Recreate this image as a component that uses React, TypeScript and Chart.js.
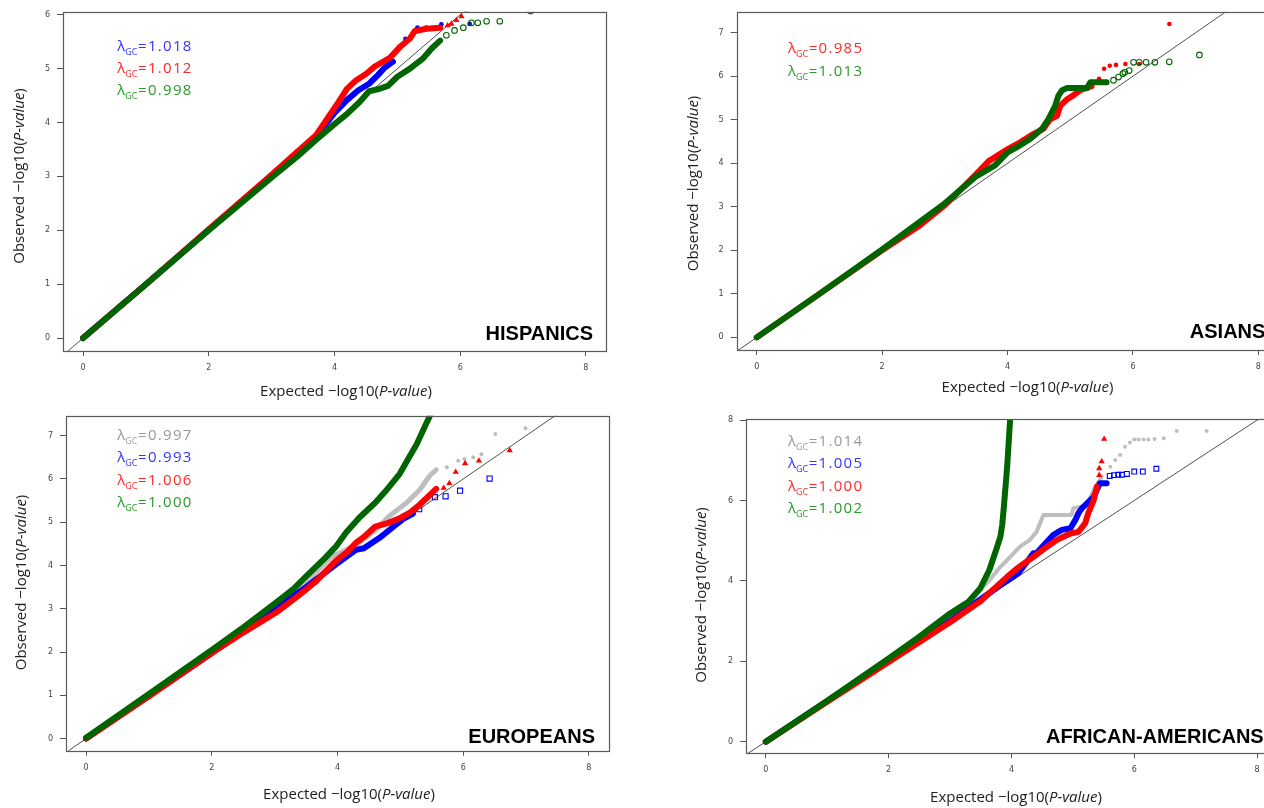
import React, { useEffect, useRef } from "react";
import { Chart, registerables } from "chart.js";

Chart.register(...registerables);

type P = [number, number];

// ---------------- DATA (expected, observed) ----------------
// HISPANICS
const hispBlueBand: P[] = [[0, 0], [1, 1], [2, 2.01], [3, 3.02], [3.4, 3.42], [3.6, 3.58], [3.85, 3.95], [4.0, 4.18], [4.2, 4.42], [4.38, 4.6], [4.55, 4.72], [4.69, 4.88], [4.8, 5.02], [4.93, 5.13]];
const hispBlueTail: P[] = [[5.13, 5.55], [5.32, 5.76], [5.46, 5.76], [5.7, 5.82], [6.15, 5.83]];
const hispRedBand: P[] = [[0, 0], [1, 1], [2, 2.02], [3, 3.03], [3.4, 3.45], [3.71, 3.77], [4.03, 4.32], [4.2, 4.63], [4.34, 4.78], [4.5, 4.9], [4.64, 5.04], [4.88, 5.2], [5.04, 5.4], [5.2, 5.56], [5.28, 5.7], [5.46, 5.74], [5.68, 5.76]];
const hispRedTail: P[] = [[5.8, 5.8], [5.86, 5.83], [5.94, 5.9], [6.02, 5.97], [6.1, 6.07]];
const hispGreenBand: P[] = [[0, 0], [1, 1], [2, 2], [3, 2.98], [3.4, 3.36], [3.7, 3.67], [4.0, 3.97], [4.2, 4.16], [4.4, 4.38], [4.55, 4.58], [4.7, 4.62], [4.85, 4.68], [5.0, 4.85], [5.2, 5.0], [5.4, 5.18], [5.55, 5.38], [5.68, 5.52]];
const hispGreenTail: P[] = [[5.78, 5.62], [5.91, 5.71], [6.05, 5.76], [6.18, 5.85], [6.28, 5.85], [6.42, 5.88], [6.63, 5.88], [7.12, 6.07]];
const hispLambda = ["1.018", "1.012", "0.998"];

// ASIANS
const asiaRedBand: P[] = [[0, 0], [1, 1], [2, 2], [2.6, 2.57], [3.0, 3.04], [3.22, 3.35], [3.5, 3.75], [3.7, 4.05], [4.01, 4.33], [4.2, 4.48], [4.41, 4.67], [4.57, 4.79], [4.68, 5.01], [4.79, 5.09], [4.84, 5.32], [4.95, 5.47], [5.05, 5.56], [5.16, 5.68], [5.34, 5.77]];
const asiaRedTail: P[] = [[5.46, 5.94], [5.54, 6.17], [5.63, 6.24], [5.73, 6.26], [5.88, 6.28], [6.1, 6.28], [6.58, 7.2]];
const asiaGreenBand: P[] = [[0, 0], [1, 1], [2, 2.02], [2.5, 2.55], [3, 3.08], [3.5, 3.7], [3.8, 3.95], [4.0, 4.25], [4.15, 4.37], [4.36, 4.56], [4.55, 4.79], [4.65, 5.01], [4.76, 5.32], [4.81, 5.55], [4.87, 5.68], [4.95, 5.73], [5.27, 5.73], [5.32, 5.86], [5.58, 5.86]];
const asiaGreenTail: P[] = [[5.69, 5.91], [5.77, 5.98], [5.84, 6.06], [5.87, 6.09], [5.94, 6.13], [6.01, 6.32], [6.1, 6.32], [6.21, 6.32], [6.35, 6.32], [6.58, 6.33], [7.06, 6.49]];
const asiaLambda = ["0.985", "1.013"];

// EUROPEANS
const euroGrayBand: P[] = [[0, 0], [1, 1.02], [2, 2.04], [3, 3.1], [3.5, 3.62], [3.91, 4.21], [4.29, 4.47], [4.6, 4.81], [4.83, 5.15], [5.1, 5.45], [5.31, 5.75], [5.47, 6.08], [5.57, 6.21]];
const euroGrayTail: P[] = [[5.74, 6.27], [5.92, 6.42], [6.02, 6.46], [6.16, 6.5], [6.29, 6.57], [6.51, 7.04], [6.99, 7.17]];
const euroBlueBand: P[] = [[0, 0], [1, 0.99], [2, 1.98], [3, 3.0], [3.5, 3.5], [3.97, 4.02], [4.29, 4.36], [4.42, 4.4], [4.67, 4.64], [4.85, 4.85], [5.04, 5.07], [5.2, 5.2]];
const euroBlueTail: P[] = [[5.3, 5.3], [5.55, 5.58], [5.72, 5.6], [5.95, 5.73], [6.42, 6.01]];
const euroRedBand: P[] = [[0, 0], [1, 0.98], [2, 1.98], [2.5, 2.45], [3.03, 2.92], [3.41, 3.34], [3.66, 3.64], [3.97, 4.1], [4.16, 4.32], [4.29, 4.52], [4.42, 4.66], [4.6, 4.9], [4.8, 4.98], [5.0, 5.1], [5.15, 5.22], [5.31, 5.41], [5.47, 5.63], [5.57, 5.77]];
const euroRedTail: P[] = [[5.69, 5.79], [5.78, 5.9], [5.88, 6.16], [6.03, 6.36], [6.25, 6.42], [6.74, 6.66]];
const euroGreenBand: P[] = [[0, 0.02], [1, 1.03], [2, 2.05], [2.5, 2.57], [3, 3.12], [3.3, 3.46], [3.5, 3.75], [3.8, 4.17], [3.97, 4.43], [4.14, 4.77], [4.35, 5.11], [4.6, 5.45], [4.76, 5.71], [4.99, 6.12], [5.14, 6.5], [5.26, 6.8], [5.39, 7.21], [5.5, 7.55]];
const euroGreenTail: P[] = [];
const euroLambda = ["0.997", "0.993", "1.006", "1.000"];

// AFRICAN-AMERICANS
const afamGrayBand: P[] = [[0, 0], [1, 1], [2, 2.03], [3, 3.1], [3.33, 3.5], [3.66, 4.05], [3.82, 4.35], [3.93, 4.52], [4.14, 4.85], [4.3, 5.02], [4.41, 5.22], [4.52, 5.64], [4.98, 5.64], [5.01, 5.81], [5.17, 5.85], [5.25, 5.97], [5.37, 6.34], [5.47, 6.59]];
const afamGrayTail: P[] = [[5.61, 6.84], [5.69, 7.01], [5.77, 7.13], [5.85, 7.34], [5.93, 7.44], [6.0, 7.52], [6.07, 7.52], [6.15, 7.52], [6.23, 7.52], [6.33, 7.53], [6.48, 7.55], [6.69, 7.73], [7.18, 7.73]];
const afamBlueBand: P[] = [[0, 0], [1, 1.01], [2, 2.02], [3, 3.0], [3.79, 3.86], [4.11, 4.19], [4.36, 4.69], [4.41, 4.69], [4.68, 5.14], [4.82, 5.27], [4.96, 5.31], [5.04, 5.51], [5.09, 5.68], [5.15, 5.81], [5.34, 6.09], [5.44, 6.43], [5.55, 6.43]];
const afamBlueTail: P[] = [[5.6, 6.61], [5.67, 6.63], [5.74, 6.64], [5.8, 6.64], [5.88, 6.66], [6.0, 6.72], [6.14, 6.72], [6.36, 6.79]];
const afamRedBand: P[] = [[0, 0], [1, 0.99], [2, 1.98], [3, 2.97], [3.5, 3.5], [3.93, 4.1], [4.09, 4.31], [4.36, 4.6], [4.58, 4.85], [4.74, 5.02], [4.96, 5.18], [5.09, 5.22], [5.2, 5.43], [5.25, 5.68], [5.34, 6.01], [5.39, 6.34]];
const afamRedTail: P[] = [[5.43, 6.63], [5.43, 6.8], [5.47, 6.97], [5.51, 7.53]];
const afamGreenBand: P[] = [[0, 0], [1, 1.02], [2, 2.07], [2.5, 2.61], [3, 3.19], [3.3, 3.48], [3.49, 3.81], [3.64, 4.27], [3.75, 4.77], [3.82, 5.1], [3.85, 5.4], [3.88, 5.9], [3.93, 6.84], [3.98, 8.05]];
const afamGreenTail: P[] = [];
const afamLambda = ["1.014", "1.005", "1.000", "1.002"];

// reference line y = x
const identityLine: P[] = [[-1, -1], [10, 10]];
const xTicks = [0, 2, 4, 6, 8];

// ---------------- STYLES ----------------
const DATA_COL = { blue: "#0000ff", red: "#ff0000", green: "#006400", gray: "#bebebe" };
const TEXT_COL = { blue: "#3535ff", red: "#ff2a2a", green: "#2a9a2a", gray: "#9a9a9a" };

type Series = {
  band: P[];
  tail: P[];
  color: string;
  style: string;
  radius: number;
  filled: boolean;
  bandWidth: number;
};

type PanelCfg = {
  name: string;
  x: number; y: number; w: number; h: number;
  area: { l: number; t: number; r: number; b: number };
  yMin: number; yMax: number; yStep: number;
  series: Series[]; // bottom -> top
  lambdas: string[];
  lambdaCols: string[];
  lamDx: number; lamDy: number; lamGap: number;
  nameDx: number; nameDy: number;
  xTitle: { cx: number; by: number };
  yTitle: { bx: number; cy: number };
};

const panels: PanelCfg[] = [
  {
    name: "HISPANICS", x: 0, y: 0, w: 632, h: 404,
    area: { l: 63, t: 8, r: 606, b: 351 },
    yMin: -0.24, yMax: 6.055, yStep: 1,
    series: [
      { band: hispBlueBand, tail: hispBlueTail, color: DATA_COL.blue, style: "circle", radius: 2.4, filled: true, bandWidth: 6 },
      { band: hispRedBand, tail: hispRedTail, color: DATA_COL.red, style: "triangle", radius: 3.6, filled: true, bandWidth: 6 },
      { band: hispGreenBand, tail: hispGreenTail, color: DATA_COL.green, style: "circle", radius: 2.8, filled: false, bandWidth: 6 },
    ],
    lambdas: hispLambda, lambdaCols: [TEXT_COL.blue, TEXT_COL.red, TEXT_COL.green],
    lamDx: 54.3, lamDy: 38.7, lamGap: 22.2, nameDx: 13, nameDy: 11,
    xTitle: { cx: 346, by: 396 }, yTitle: { bx: 24, cy: 176 },
  },
  {
    name: "ASIANS", x: 640, y: 0, w: 660, h: 404,
    area: { l: 96.7, t: 8, r: 638.4, b: 350 },
    yMin: -0.29, yMax: 7.48, yStep: 1,
    series: [
      { band: asiaRedBand, tail: asiaRedTail, color: DATA_COL.red, style: "circle", radius: 2.3, filled: true, bandWidth: 6 },
      { band: asiaGreenBand, tail: asiaGreenTail, color: DATA_COL.green, style: "circle", radius: 2.8, filled: false, bandWidth: 6 },
    ],
    lambdas: asiaLambda, lambdaCols: [TEXT_COL.red, TEXT_COL.green],
    lamDx: 51.3, lamDy: 41.3, lamGap: 22.4, nameDx: 13, nameDy: 12,
    xTitle: { cx: 387.5, by: 391.7 }, yTitle: { bx: 58, cy: 183.5 },
  },
  {
    name: "EUROPEANS", x: 0, y: 404, w: 632, h: 404,
    area: { l: 66, t: 3.3, r: 609, b: 346.7 },
    yMin: -0.28, yMax: 7.46, yStep: 1,
    series: [
      { band: euroGrayBand, tail: euroGrayTail, color: DATA_COL.gray, style: "circle", radius: 2, filled: true, bandWidth: 5 },
      { band: euroBlueBand, tail: euroBlueTail, color: DATA_COL.blue, style: "rect", radius: 3.6, filled: false, bandWidth: 6 },
      { band: euroRedBand, tail: euroRedTail, color: DATA_COL.red, style: "triangle", radius: 3.6, filled: true, bandWidth: 6 },
      { band: euroGreenBand, tail: euroGreenTail, color: DATA_COL.green, style: "circle", radius: 2.8, filled: false, bandWidth: 6 },
    ],
    lambdas: euroLambda, lambdaCols: [TEXT_COL.gray, TEXT_COL.blue, TEXT_COL.red, TEXT_COL.green],
    lamDx: 51.3, lamDy: 24.4, lamGap: 22.2, nameDx: 14, nameDy: 7.7,
    xTitle: { cx: 349, by: 395 }, yTitle: { bx: 26, cy: 178.5 },
  },
  {
    name: "AFRICAN-AMERICANS", x: 640, y: 404, w: 660, h: 404,
    area: { l: 106.2, t: 15.3, r: 636.7, b: 349.3 },
    yMin: -0.29, yMax: 8.02, yStep: 2,
    series: [
      { band: afamGrayBand, tail: afamGrayTail, color: DATA_COL.gray, style: "circle", radius: 2, filled: true, bandWidth: 4 },
      { band: afamBlueBand, tail: afamBlueTail, color: DATA_COL.blue, style: "rect", radius: 3.4, filled: false, bandWidth: 6 },
      { band: afamRedBand, tail: afamRedTail, color: DATA_COL.red, style: "triangle", radius: 3.6, filled: true, bandWidth: 6 },
      { band: afamGreenBand, tail: afamGreenTail, color: DATA_COL.green, style: "circle", radius: 2.8, filled: false, bandWidth: 6 },
    ],
    lambdas: afamLambda, lambdaCols: [TEXT_COL.gray, TEXT_COL.blue, TEXT_COL.red, TEXT_COL.green],
    lamDx: 41.8, lamDy: 26.7, lamGap: 22.4, nameDx: 13, nameDy: 10,
    xTitle: { cx: 376, by: 397.7 }, yTitle: { bx: 66, cy: 191 },
  },
];

const toXY = (arr: P[]) => arr.map(([x, y]) => ({ x, y }));

const LABEL_FONT = "'Open Sans', 'DejaVu Sans', sans-serif";

function drawRich(ctx: CanvasRenderingContext2D, segs: { t: string; font: string }[], cx: number, cy: number, rotate: boolean, color: string) {
  ctx.save();
  ctx.translate(cx, cy);
  if (rotate) ctx.rotate(-Math.PI / 2);
  ctx.fillStyle = color;
  ctx.textAlign = "left";
  ctx.textBaseline = "alphabetic";
  const widths = segs.map((s) => {
    ctx.font = s.font;
    return ctx.measureText(s.t).width;
  });
  const total = widths.reduce((a, b) => a + b, 0);
  let x = -total / 2;
  segs.forEach((s, i) => {
    ctx.font = s.font;
    ctx.fillText(s.t, x, 0);
    x += widths[i];
  });
  ctx.restore();
}

function titleSegs(word: string) {
  const f = `15px ${LABEL_FONT}`;
  const fi = `italic 15px ${LABEL_FONT}`;
  return [
    { t: `${word} \u2212log10(`, font: f },
    { t: "P-value", font: fi },
    { t: ")", font: f },
  ];
}

function decorPlugin(p: PanelCfg) {
  return {
    id: "decor",
    afterDraw(chart: any) {
      const ctx: CanvasRenderingContext2D = chart.ctx;
      const a = chart.chartArea;
      ctx.save();
      // box
      ctx.strokeStyle = "#5a5a5a";
      ctx.lineWidth = 1.2;
      ctx.strokeRect(Math.round(a.left) + 0.5, Math.round(a.top) + 0.5, Math.round(a.right - a.left), Math.round(a.bottom - a.top));
      // lambda labels
      p.lambdas.forEach((v, i) => {
        let x = a.left + p.lamDx;
        const by = a.top + p.lamDy + i * p.lamGap;
        ctx.fillStyle = p.lambdaCols[i];
        ctx.textAlign = "left";
        ctx.textBaseline = "alphabetic";
        (ctx as any).letterSpacing = "0px";
        ctx.font = `15px ${LABEL_FONT}`;
        ctx.fillText("\u03bb", x, by);
        x += ctx.measureText("\u03bb").width;
        ctx.font = `9px ${LABEL_FONT}`;
        ctx.fillText("GC", x, by + 4);
        x += ctx.measureText("GC").width + 0.5;
        ctx.font = `15px ${LABEL_FONT}`;
        (ctx as any).letterSpacing = "1.3px";
        ctx.fillText("=" + v, x, by);
        (ctx as any).letterSpacing = "0px";
      });
      // panel name
      ctx.fillStyle = "#000";
      ctx.font = "bold 20px 'Liberation Sans', Arial, sans-serif";
      ctx.textAlign = "right";
      ctx.fillText(p.name, a.right - p.nameDx, a.bottom - p.nameDy);
      ctx.restore();
      // axis titles
      drawRich(ctx, titleSegs("Expected"), p.xTitle.cx, p.xTitle.by, false, "#222");
      drawRich(ctx, titleSegs("Observed"), p.yTitle.bx, p.yTitle.cy, true, "#222");
    },
  };
}

function buildConfig(p: PanelCfg): any {
  const datasets: any[] = [];
  datasets.push({
    data: toXY(identityLine), showLine: true, borderColor: "#505050", borderWidth: 1,
    pointRadius: 0, clip: 0,
  });
  for (const s of p.series) {
    datasets.push({
      data: toXY(s.band), showLine: true, borderColor: s.color, borderWidth: s.bandWidth,
      borderCapStyle: "round", borderJoinStyle: "round", pointRadius: 0, tension: 0, clip: 0,
    });
    datasets.push({
      data: toXY(s.tail), showLine: false, pointStyle: s.style, pointRadius: s.radius,
      backgroundColor: s.filled ? s.color : "rgba(0,0,0,0)", borderColor: s.color,
      borderWidth: s.filled ? 0 : 1.1, clip: 0,
    });
  }
  datasets.forEach((d, i) => { d.order = datasets.length - i; });

  const tickFont = { size: 8, family: "'DejaVu Sans', sans-serif" };
  return {
    type: "scatter",
    data: { datasets },
    plugins: [decorPlugin(p)],
    options: {
      animation: false,
      responsive: false,
      devicePixelRatio: 1,
      events: [],
      layout: { padding: { left: 0, top: p.area.t, right: p.w - p.area.r, bottom: 0 } },
      plugins: { legend: { display: false }, tooltip: { enabled: false } },
      scales: {
        x: {
          type: "linear", min: -0.32, max: 8.32,
          afterFit: (s: any) => { s.height = p.h - p.area.b; },
          afterBuildTicks: (s: any) => { s.ticks = xTicks.map((v) => ({ value: v })); },
          ticks: { font: tickFont, color: "#444", padding: 7, maxRotation: 0, autoSkip: false, includeBounds: false },
          grid: { drawOnChartArea: false, tickLength: 5, tickColor: "#555", tickWidth: 1 },
          border: { display: false },
        },
        y: {
          type: "linear", min: p.yMin, max: p.yMax,
          afterFit: (s: any) => { s.width = p.area.l; },
          ticks: { stepSize: p.yStep, font: tickFont, color: "#444", padding: 7, autoSkip: false, includeBounds: false },
          grid: { drawOnChartArea: false, tickLength: 6, tickColor: "#555", tickWidth: 1 },
          border: { display: false },
        },
      },
    },
  };
}

function Panel({ cfg }: { cfg: PanelCfg }) {
  const ref = useRef<HTMLCanvasElement>(null);
  useEffect(() => {
    const chart = new Chart(ref.current as HTMLCanvasElement, buildConfig(cfg));
    return () => chart.destroy();
  }, [cfg]);
  return (
    <canvas
      ref={ref}
      width={cfg.w}
      height={cfg.h}
      style={{ position: "absolute", left: cfg.x, top: cfg.y, width: cfg.w, height: cfg.h }}
    />
  );
}

export default function App() {
  return (
    <div style={{ position: "absolute", left: 0, top: 0, width: 1264, height: 808, overflow: "hidden", background: "#fff" }}>
      {panels.map((p) => (
        <Panel key={p.name} cfg={p} />
      ))}
    </div>
  );
}
